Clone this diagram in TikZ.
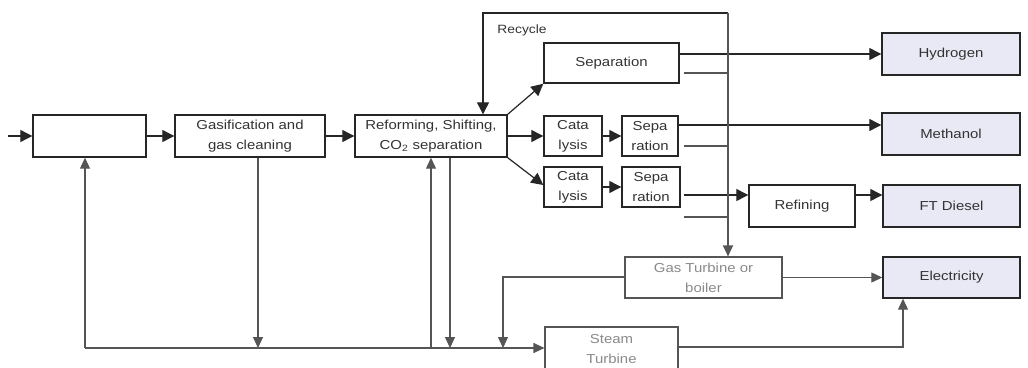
\documentclass[tikz,border=0pt]{standalone}
\usepackage{fontspec}
\setmainfont[FakeStretch=1.15]{Liberation Sans}
\usetikzlibrary{arrows.meta}
\definecolor{ln}{HTML}{262626}
\definecolor{lnl}{HTML}{555555}
\definecolor{txt}{HTML}{333333}
\definecolor{txtl}{HTML}{8A8A8A}
\definecolor{prod}{HTML}{E9E9F5}
\begin{document}
\begin{tikzpicture}[x=1pt,y=-1pt,
  box/.style={draw=ln, line width=1.4pt, inner sep=0pt, align=center, text=txt, font=\fontsize{13}{20}\selectfont},
  pbox/.style={box, fill=prod},
  gbox/.style={box, draw=lnl, line width=1.1pt, text=txtl},
  con/.style={draw=ln, line width=1.2pt},
  arr/.style={con, -{Triangle[length=12pt,width=12pt]}},
  thin/.style={draw=lnl, line width=1.1pt},
  thinarr/.style={thin, -{Triangle[length=11pt,width=10pt]}}]
\fill[white] (0,0) rectangle (1028,367);
\useasboundingbox (0,0) rectangle (1028,367);

% main chain
\node[box, minimum width=113pt, minimum height=42pt] (b1) at (89.5,136) {};
\node[box, minimum width=150pt, minimum height=42pt] (gas) at (250,136) {Gasification and\\gas cleaning};
\node[box, minimum width=152pt, minimum height=42pt] (ref) at (431,136) {Reforming, Shifting,\\CO\textsubscript{2} separation};

% middle boxes
\node[box, minimum width=135pt, minimum height=40pt] (sep) at (611.5,63) {Separation};
\node[box, minimum width=58pt, minimum height=40pt] (cat1) at (573,136) {Cata\\lysis};
\node[box, minimum width=56pt, minimum height=40pt] (sp1) at (650,136) {Sepa\\ration};
\node[box, minimum width=58pt, minimum height=40pt] (cat2) at (573,187) {Cata\\lysis};
\node[box, minimum width=58pt, minimum height=40pt] (sp2) at (651,187) {Sepa\\ration};
\node[box, minimum width=106pt, minimum height=42pt] (rfn) at (802,206) {Refining};

% products
\node[pbox, minimum width=138pt, minimum height=42pt] (hyd) at (951,54) {Hydrogen};
\node[pbox, minimum width=138pt, minimum height=42pt] (meth) at (951,134) {Methanol};
\node[pbox, minimum width=137pt, minimum height=42pt] (ftd) at (951.5,206) {FT Diesel};
\node[pbox, minimum width=137pt, minimum height=41pt] (elec) at (951.5,277.5) {Electricity};

% power
\node[gbox, minimum width=157pt, minimum height=41pt] (gt) at (703.5,277.5) {Gas Turbine or\\boiler};
\node[gbox, minimum width=133pt, minimum height=45pt] (st) at (611.5,349.5) {Steam\\Turbine};

\node[text=txt, font=\fontsize{12}{14}\selectfont] (rlab) at (522,30) {Recycle};

% coordinates
\coordinate (in0) at (8,136);
\coordinate (top1) at (483,13);
\coordinate (top2) at (728,13);
\coordinate (bl) at (85,348);
\coordinate (gtl) at (503,277);
\coordinate (stc) at (903,347);
\coordinate (yme) at (0,125);
\coordinate (yrf) at (0,195);

% main chain arrows
\draw[arr] (in0) -- (b1.west);
\draw[arr] (b1.east) -- (gas.west);
\draw[arr] (gas.east) -- (ref.west);
\draw[arr] (ref.east) -- (cat1.west);
\draw[arr] (ref.north east) -- (sep.south west);
\draw[arr] (ref.south east) -- ([yshift=2pt]cat2.west);
\draw[arr] (cat1.east) -- (sp1.west);
\draw[arr] (cat2.east) -- (sp2.west);

% outputs
\draw[arr] (sep.east |- hyd.west) -- (hyd.west);
\draw[arr] (sp1.east |- yme) -- (meth.west |- yme);
\draw[arr] ([xshift=3pt]sp2.east |- yrf) -- (rfn.west |- yrf);
\draw[arr] (rfn.east |- yrf) -- (ftd.west |- yrf);

% short lines to recycle line
\draw[thin] ([xshift=4pt]sep.east |- 0,73) -- (top2 |- 0,73);
\draw[thin] ([xshift=5pt]sp1.east |- 0,146) -- (top2 |- 0,146);
\draw[thin] ([xshift=3pt]sp2.east |- 0,217) -- (top2 |- 0,217);

% recycle
\draw[arr] (top2) -- (top1) -- (ref.north -| top1);
\draw[thinarr] (top2) -- (gt.north -| top2);

% power section
\draw[thinarr] (gt.east) -- (elec.west);
\draw[thinarr] (gt.west |- gtl) -- (gtl) -- (gtl |- bl);
\draw[thinarr] (st.east |- stc) -- (stc) -- (elec.south -| stc);

% bottom collector
\draw[thinarr] (bl) -- (st.west |- bl);
\draw[thinarr] (bl) -- (b1.south -| bl);
\draw[thinarr] (gas.south -| 258,0) -- (258,348);
\draw[thinarr] (431,348) -- (ref.south);
\draw[thinarr] (ref.south -| 450,0) -- (450,348);
\end{tikzpicture}
\end{document}
